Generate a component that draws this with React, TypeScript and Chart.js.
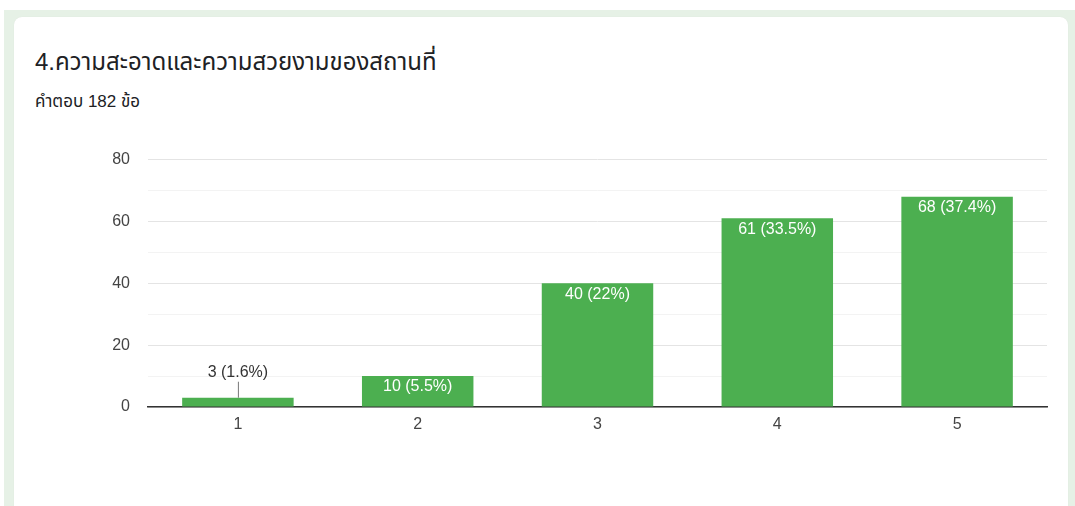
import React, { useEffect, useRef } from "react";
import { Chart, registerables } from "chart.js";

Chart.register(...registerables);

const categories = ["1", "2", "3", "4", "5"];
const counts = [3, 10, 40, 61, 68];
const percentLabels = ["1.6%", "5.5%", "22%", "33.5%", "37.4%"];
const yTicks = [0, 20, 40, 60, 80];

const FONT = "'Liberation Sans', Arial, 'Noto Sans Thai', 'Loma', 'Garuda', 'Tlwg Typo', sans-serif";

const labelPlugin = {
  id: "barLabels",
  afterDatasetsDraw(chart: any) {
    const ctx = chart.ctx;
    const meta = chart.getDatasetMeta(0);
    ctx.save();
    ctx.font = `16px ${FONT}`;
    ctx.textAlign = "center";
    ctx.textBaseline = "middle";
    meta.data.forEach((bar: any, i: number) => {
      const text = `${counts[i]} (${percentLabels[i]})`;
      const h = bar.base - bar.y;
      if (h < 24) {
        ctx.strokeStyle = "#777";
        ctx.lineWidth = 1;
        ctx.beginPath();
        ctx.moveTo(bar.x + 0.5, bar.y);
        ctx.lineTo(bar.x + 0.5, bar.y - 16);
        ctx.stroke();
        ctx.fillStyle = "#333";
        ctx.fillText(text, bar.x, bar.y - 25);
      } else {
        ctx.fillStyle = "#ffffff";
        ctx.fillText(text, bar.x, bar.y + 11);
      }
    });
    ctx.restore();
  },
};

function BarChart() {
  const ref = useRef<HTMLCanvasElement>(null);
  useEffect(() => {
    if (!ref.current) return;
    const chart = new Chart(ref.current, {
      type: "bar",
      data: {
        labels: categories,
        datasets: [
          {
            data: counts,
            backgroundColor: "#4caf50",
            categoryPercentage: 1,
            barPercentage: 0.62,
          },
        ],
      },
      options: {
        animation: false,
        responsive: false,
        maintainAspectRatio: false,
        layout: { padding: { top: 1, right: 8, left: 0, bottom: 0 } },
        plugins: {
          legend: { display: false },
          tooltip: { enabled: false },
        },
        scales: {
          x: {
            grid: { display: false, drawTicks: false },
            border: { display: true, color: "#333333", width: 1.5 },
            ticks: {
              color: "#444",
              font: { size: 16, family: FONT },
              padding: 8,
            },
            afterFit: (s: any) => {
              s.height = 38;
            },
          },
          y: {
            min: 0,
            max: 80,
            border: { display: false },
            grid: {
              drawTicks: false,
              color: (c: any) =>
                c.tick && c.tick.value % 20 === 0 ? "#e4e4e4" : "#f3f3f3",
              lineWidth: 1,
            },
            ticks: {
              stepSize: 10,
              color: "#444",
              font: { size: 16, family: FONT },
              padding: 18,
              callback: (v: any) => (yTicks.includes(Number(v)) ? String(v) : ""),
            },
            afterFit: (s: any) => {
              s.width = 68;
            },
          },
        },
      },
      plugins: [labelPlugin],
    });
    return () => chart.destroy();
  }, []);
  return (
    <canvas
      ref={ref}
      width={975}
      height={313}
      style={{ position: "absolute", left: 80, top: 132, width: 975, height: 313 }}
    />
  );
}

export default function App() {
  return (
    <div
      style={{
        position: "fixed",
        left: 0,
        top: 0,
        width: 1075,
        height: 506,
        background: "#ffffff",
        overflow: "hidden",
        fontFamily: FONT,
      }}
    >
      <div
        style={{
          position: "absolute",
          left: 4,
          top: 10,
          width: 1075,
          height: 520,
          background: "#e6f1e6",
        }}
      />
      <div
        style={{
          position: "absolute",
          left: 14,
          top: 17,
          width: 1054,
          height: 510,
          background: "#ffffff",
          borderRadius: 8,
          boxShadow: "0 0 1px rgba(0,0,0,0.08)",
        }}
      />
      <div
        style={{
          position: "absolute",
          left: 35,
          top: 47,
          fontSize: 24,
          lineHeight: "30px",
          color: "#202124",
          whiteSpace: "nowrap",
        }}
      >
        4.ความสะอาดและความสวยงามของสถานที่
      </div>
      <div
        style={{
          position: "absolute",
          left: 35,
          top: 91,
          fontSize: 17,
          lineHeight: "22px",
          color: "#202124",
          whiteSpace: "nowrap",
        }}
      >
        คำตอบ 182 ข้อ
      </div>
      <BarChart />
    </div>
  );
}
